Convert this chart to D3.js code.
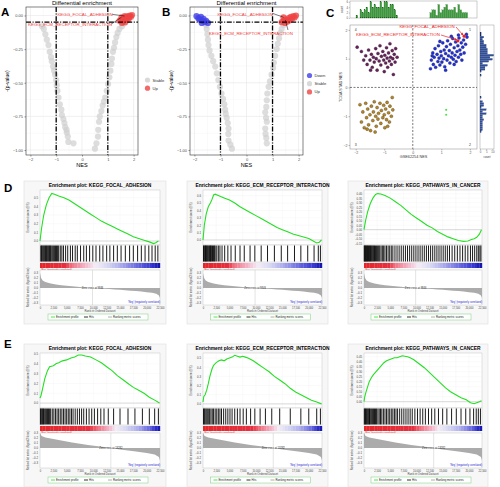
<!DOCTYPE html>
<html><head><meta charset="utf-8">
<script src="https://cdn.jsdelivr.net/npm/d3@7"></script>
<style>body{margin:0;background:#fff} svg{display:block;font-family:"Liberation Sans",Arial,Helvetica,sans-serif}</style>
</head><body><svg id="c" width="500" height="487"></svg>
<script>
// ---------------- DATA ----------------
// Panel A volcano (NES, -(p-value))
const volcA_stable = [[-1.55,-0.08],[-1.48,-0.10],[-1.42,-0.14],[-1.36,-0.18],[-1.30,-0.22],[-1.25,-0.27],[-1.20,-0.31],[-1.17,-0.34],[-1.12,-0.38],[-1.08,-0.41],[-1.04,-0.44],[-1.00,-0.48],[-0.98,-0.52],[-0.95,-0.56],[-0.91,-0.61],[-0.86,-0.66],[-0.80,-0.70],[-0.78,-0.74],[-0.72,-0.77],[-0.68,-0.80],[-0.65,-0.83],[-0.60,-0.85],[-0.59,-0.87],[-0.55,-0.90],[-0.53,-0.94],[-0.33,-0.95],
 [1.62,-0.06],[1.55,-0.08],[1.45,-0.10],[1.38,-0.13],[1.33,-0.16],[1.28,-0.20],[1.24,-0.24],[1.20,-0.27],[1.16,-0.32],[1.14,-0.36],[1.10,-0.41],[1.06,-0.46],[1.01,-0.51],[0.96,-0.56],[0.90,-0.61],[0.85,-0.64],[0.80,-0.67],[0.75,-0.71],[0.69,-0.75],[0.66,-0.79],[0.63,-0.85],[0.62,-0.90],[0.56,-0.95],[0.50,-0.99]];
const volcA_up = [[1.45,-0.04],[1.52,-0.03],[1.58,-0.045],[1.62,-0.02],[1.66,-0.035],[1.70,-0.01],[1.74,-0.025],[1.78,-0.005],[1.82,-0.015],[1.86,0.0],[1.90,-0.01],[1.94,0.003],[1.68,-0.05],[1.55,-0.055],[1.80,-0.03],[1.65,-0.004],[1.53,-0.013]];
const volcA_labels = [["KEGG_FOCAL_ADHESION",1.65,-0.004],["KEGG_ECM_RECEPTOR_INTERACTION",1.53,-0.013]];
// Panel B volcano
const volcB_down = [[-1.92,-0.005],[-1.85,-0.02],[-1.80,-0.03],[-1.75,-0.01],[-1.70,-0.04],[-1.65,-0.025],[-1.60,-0.05],[-1.55,-0.04],[-1.72,-0.055],[-1.48,-0.055]];
const volcB_stable = [[-1.55,-0.07],[-1.53,-0.10],[-1.50,-0.14],[-1.48,-0.18],[-1.46,-0.22],[-1.42,-0.26],[-1.35,-0.30],[-1.28,-0.34],[-1.20,-0.38],[-1.14,-0.43],[-1.08,-0.48],[-1.02,-0.53],[-0.96,-0.58],[-0.90,-0.62],[-0.85,-0.66],[-0.82,-0.70],[-0.80,-0.73],[-0.76,-0.76],[-0.72,-0.80],[-0.69,-0.84],[-0.70,-0.88],[-0.69,-0.93],[-0.62,-0.96],[-0.56,-0.99],
 [1.42,-0.07],[1.35,-0.10],[1.30,-0.13],[1.25,-0.17],[1.20,-0.21],[1.16,-0.25],[1.10,-0.30],[1.05,-0.35],[1.02,-0.39],[0.96,-0.44],[0.90,-0.49],[0.85,-0.53],[0.80,-0.58],[0.78,-0.63],[0.76,-0.68],[0.72,-0.72],[0.75,-0.76],[0.78,-0.79],[0.72,-0.84],[0.73,-0.88],[0.76,-0.91],[0.78,-0.95]];
const volcB_up = [[1.35,-0.05],[1.42,-0.04],[1.48,-0.055],[1.52,-0.03],[1.58,-0.045],[1.62,-0.02],[1.66,-0.035],[1.70,-0.01],[1.75,-0.025],[1.80,-0.005],[1.85,-0.015],[1.90,0.0],[1.42,-0.013],[1.49,-0.033]];
const volcB_labels = [["KEGG_FOCAL_ADHESION",1.42,-0.013],["KEGG_ECM_RECEPTOR_INTERACTION",1.49,-0.033]];
const volcXTicks = [-2,-1,0,1,2];
const volcYTicks = [0,-0.25,-0.5,-0.75,-1];

// Panel C: GSE62254 NES (x) vs TCGA STAD NES (y)
const cPurple = [[-1.80,1.25],[-1.72,0.95],[-1.65,1.10],[-1.60,0.80],[-1.55,1.30],[-1.50,0.95],[-1.45,1.15],[-1.42,0.70],[-1.38,1.05],[-1.35,0.88],[-1.30,1.35],[-1.28,1.00],[-1.25,0.60],[-1.22,1.18],[-1.18,0.92],[-1.15,1.45],[-1.12,0.78],[-1.10,1.08],[-1.05,1.25],[-1.02,0.95],[-1.00,0.55],[-0.98,1.12],[-0.95,0.85],[-0.92,1.38],[-0.90,1.02],[-0.88,0.70],[-0.85,1.20],[-0.82,0.92],[-0.80,1.52],[-0.78,1.05],[-0.75,0.80],[-0.72,1.28],[-0.70,1.00],[-0.68,0.45],[-0.65,1.15],[-0.62,0.88],[-0.60,1.35],[-1.95,1.40],[-1.48,0.60],[-0.55,1.05]];
const cBlue = [[0.62,0.65],[0.65,0.95],[0.70,1.20],[0.72,0.80],[0.75,1.05],[0.78,1.35],[0.80,0.70],[0.85,1.15],[0.88,0.90],[0.90,1.45],[0.92,1.02],[0.95,0.78],[0.98,1.25],[1.00,1.10],[1.02,0.88],[1.05,1.55],[1.08,1.00],[1.10,1.30],[1.12,0.72],[1.15,1.18],[1.18,1.42],[1.20,0.95],[1.22,1.62],[1.25,1.10],[1.28,1.28],[1.30,0.85],[1.32,1.50],[1.35,1.05],[1.38,1.20],[1.40,1.70],[1.42,0.98],[1.45,1.38],[1.48,1.12],[1.50,1.58],[1.52,0.90],[1.55,1.25],[1.58,1.45],[1.60,1.05],[1.62,1.72],[1.65,1.30],[1.68,1.15],[1.70,1.55],[1.72,0.95],[1.75,1.40],[1.78,1.65],[1.80,1.20],[1.85,1.50],[1.88,1.85],[0.68,1.10],[0.95,1.60],[1.15,0.60],[1.35,1.78],[1.45,0.80],[1.60,1.82],[1.90,1.75]];
const cBrown = [[-1.85,-0.60],[-1.80,-1.20],[-1.75,-0.85],[-1.70,-1.40],[-1.65,-0.55],[-1.62,-1.05],[-1.58,-0.75],[-1.55,-1.30],[-1.50,-0.95],[-1.48,-1.50],[-1.45,-0.65],[-1.40,-1.15],[-1.38,-0.85],[-1.35,-0.50],[-1.30,-1.00],[-1.28,-1.35],[-1.25,-0.70],[-1.22,-1.10],[-1.20,-0.90],[-1.15,-0.55],[-1.12,-1.25],[-1.10,-0.80],[-1.05,-1.05],[-1.02,-0.62],[-1.00,-0.95],[-0.98,-1.40],[-0.95,-0.75],[-0.92,-1.12],[-0.90,-0.52],[-0.85,-0.88],[-0.82,-1.20],[-0.80,-0.65],[-0.75,-1.00],[-0.72,-0.35],[-0.70,-0.78],[-1.60,-1.45],[-1.32,-1.55],[-0.88,-1.35]];
const cGreen = [[1.17,-0.78],[1.17,-0.95]];
const cHighlight = [["KEGG_FOCAL_ADHESION",1.80,1.78],["KEGG_ECM_RECEPTOR_INTERACTION",1.58,1.62]];
const cTicks = [-2,-1,0,1,2];
const cQuadrants = [["4",-2,2],["1",2,2],["3",-2,-2],["2",2,-2]];

// GSEA panels (rank, enrichment score)
const rankTicks = [0,2500,5000,7500,10000,12500,15000,17500,20000,22500];
const esD1 = [[0,0],[300,0.15],[700,0.30],[1200,0.42],[1700,0.50],[2200,0.55],[2700,0.54],[3500,0.52],[4500,0.50],[5500,0.47],[6500,0.43],[7500,0.39],[8500,0.35],[9500,0.31],[10500,0.27],[11500,0.23],[12500,0.20],[13500,0.17],[14500,0.14],[15500,0.11],[16500,0.08],[17500,0.05],[18500,0.03],[19500,0.01],[20500,-0.01],[21300,-0.03],[21700,-0.02],[22200,0]];
const hitsD1 = [150,300,420,600,750,900,1050,1200,1350,1500,1650,1800,1950,2100,2300,2500,2700,2900,3100,3300,3500,3800,4100,4400,4800,5200,5700,6100,6600,7000,7600,8200,8700,9300,9900,10500,11200,11800,12500,13100,13800,14500,15200,16000,16800,17500,18300,19000,19700,20400,21000,21600,22100];
const esD2 = [[0,0],[250,0.20],[600,0.35],[1000,0.45],[1400,0.50],[1700,0.55],[2000,0.61],[2300,0.62],[3000,0.60],[4000,0.57],[5000,0.54],[6000,0.50],[7000,0.45],[8000,0.41],[9000,0.37],[10000,0.33],[11000,0.29],[12000,0.25],[13000,0.21],[14000,0.17],[15000,0.14],[16000,0.11],[17000,0.08],[18000,0.06],[19000,0.04],[20000,0.02],[21000,-0.02],[21500,-0.04],[22000,-0.03],[22400,0]];
const hitsD2 = [100,200,350,450,550,700,800,950,1100,1250,1400,1500,1650,1800,2000,2150,2300,2600,2900,3200,3600,4100,4700,5300,6100,7000,7800,8900,9800,11000,12200,13500,14800,16000,17300,18500,19800,21000,21800,22200];
const esD3 = [[0,0],[300,0.10],[700,0.20],[1200,0.29],[1700,0.35],[2200,0.39],[2600,0.40],[3200,0.395],[4000,0.38],[5000,0.35],[6000,0.31],[7000,0.27],[8000,0.22],[9000,0.17],[10000,0.13],[11000,0.09],[12000,0.05],[13000,0.02],[14000,-0.02],[15000,-0.05],[16000,-0.08],[17000,-0.10],[18000,-0.12],[19000,-0.13],[19800,-0.125],[20500,-0.11],[21000,-0.10],[21500,-0.085],[22000,-0.05],[22400,0]];
const hitsD3 = [50,150,250,350,500,600,700,850,1000,1100,1250,1400,1550,1700,1850,2000,2200,2400,2600,2800,3000,3250,3500,3750,4000,4300,4600,4900,5200,5500,5900,6300,6700,7100,7500,7900,8300,8700,9100,9500,9900,10300,10700,11100,11500,11900,12300,12700,13100,13500,13900,14300,14700,15100,15500,15900,16300,16800,17300,17800,18300,18800,19300,19800,20300,20700,21100,21500,21800,22100,22300];
const esE1 = [[0,0.05],[200,0.08],[500,0.15],[900,0.25],[1400,0.33],[1800,0.37],[2500,0.38],[3000,0.40],[3500,0.41],[4200,0.43],[5000,0.44],[5800,0.46],[6500,0.47],[7200,0.49],[7800,0.49],[8500,0.48],[9500,0.47],[10500,0.44],[11500,0.41],[12500,0.37],[13500,0.33],[14500,0.28],[15500,0.24],[16500,0.20],[17500,0.16],[18500,0.13],[19500,0.10],[20500,0.06],[21500,0.03],[22400,0]];
const hitsE1 = [80,200,350,500,650,800,1000,1200,1400,1600,1800,2000,2300,2600,2900,3200,3500,3800,4100,4400,4700,5000,5300,5600,5900,6200,6600,7000,7400,7800,8200,8700,9200,9700,10200,10800,11400,12000,12800,13800,15000,16500,17800,19200,20500,21500,22200];
const esE2 = [[0,0.02],[150,0.08],[400,0.10],[700,0.15],[1000,0.22],[1300,0.30],[1700,0.38],[2000,0.42],[2500,0.45],[3000,0.47],[3500,0.48],[4000,0.47],[4500,0.49],[5000,0.50],[5500,0.51],[6000,0.53],[6500,0.52],[7000,0.51],[7500,0.52],[8000,0.51],[8500,0.50],[9500,0.47],[10500,0.43],[11500,0.39],[12500,0.35],[13500,0.30],[14500,0.26],[15500,0.22],[16500,0.17],[17500,0.13],[18500,0.10],[19500,0.07],[20500,0.04],[21500,0.02],[22400,0]];
const hitsE2 = [100,250,400,600,800,1000,1250,1500,1750,2000,2300,2600,2900,3200,3500,3900,4300,4700,5100,5500,6000,6500,7000,7600,8200,9000,9800,10800,11800,13000,14500,16500,18500,20000,21500,22200];
const esE3 = [[0,0],[150,0.05],[400,0.10],[700,0.15],[1000,0.20],[1400,0.24],[1800,0.27],[2300,0.30],[2800,0.33],[3300,0.36],[3800,0.39],[4300,0.41],[4800,0.42],[5300,0.43],[5800,0.44],[6300,0.44],[6800,0.45],[7300,0.46],[7800,0.455],[8300,0.45],[8800,0.44],[9500,0.42],[10500,0.38],[11500,0.34],[12500,0.29],[13500,0.24],[14500,0.19],[15500,0.14],[16500,0.10],[17500,0.07],[18500,0.04],[19500,0.02],[20300,-0.01],[21000,-0.02],[21500,-0.01],[22000,0],[22400,0.01]];
const hitsE3 = [60,180,300,450,600,750,900,1050,1200,1400,1600,1800,2000,2200,2400,2650,2900,3150,3400,3700,4000,4300,4600,4900,5200,5500,5800,6100,6400,6800,7200,7600,8000,8400,8800,9200,9700,10200,10700,11200,11700,12300,12900,13500,14200,15000,15800,16700,17600,18500,19400,20200,20900,21400,21800,22200];
// ranked list metric (rank, signal2noise)
const rankedD = [[0,0.30],[200,0.20],[500,0.15],[1000,0.12],[2000,0.09],[3000,0.07],[4000,0.055],[5000,0.045],[6000,0.035],[7000,0.025],[8000,0.015],[9000,0.006],[9846,0],[11000,-0.008],[12000,-0.015],[13000,-0.022],[14000,-0.03],[15000,-0.037],[16000,-0.045],[17000,-0.053],[18000,-0.062],[19000,-0.072],[20000,-0.083],[21000,-0.097],[21800,-0.115],[22300,-0.15],[22500,-0.2]];
const rankedE = [[0,0.30],[300,0.24],[1000,0.21],[3000,0.17],[6000,0.11],[9000,0.06],[12000,0.02],[13282,0],[15000,-0.03],[18000,-0.07],[20000,-0.10],[21500,-0.13],[22300,-0.18],[22500,-0.25]];
const zeroCrossD = 9846, zeroCrossE = 13282;
const esTicksD1 = [0,0.1,0.2,0.3,0.4,0.5];
const esTicksD2 = [0,0.1,0.2,0.3,0.4,0.5,0.6];
const esTicksD3 = [-0.15,-0.10,-0.05,0,0.05,0.10,0.15,0.20,0.25,0.30,0.35,0.40];
const esTicksE1 = [0,0.1,0.2,0.3,0.4,0.5];
const esTicksE2 = [0,0.1,0.2,0.3,0.4,0.5];
const esTicksE3 = [0,0.05,0.10,0.15,0.20,0.25,0.30,0.35,0.40,0.45];
const rankedTicks = [-0.3,-0.2,-0.1,0,0.1,0.2,0.3];

// ---------------- DRAWING ----------------
const svg = d3.select('#c');
const RED='#ef4343', GRAY='#cfcfcf', BLUE='#4040e8';

function volcano(cfg){
  const g = svg.append('g');
  const x = d3.scaleLinear().domain([-2.17,2.17]).range([cfg.x0,cfg.x1]);
  const y = d3.scaleLinear().domain([-1.037,0.063]).range([cfg.y1,cfg.y0]);
  g.append('rect').attr('x',cfg.x0).attr('y',cfg.y0).attr('width',cfg.x1-cfg.x0).attr('height',cfg.y1-cfg.y0).attr('fill','#fff');
  const minorX = d3.pairs(volcXTicks).map(p=>(p[0]+p[1])/2), minorY = d3.pairs(volcYTicks).map(p=>(p[0]+p[1])/2);
  g.selectAll(null).data(minorX).enter().append('line').attr('x1',d=>x(d)).attr('x2',d=>x(d)).attr('y1',cfg.y0).attr('y2',cfg.y1).attr('stroke','#f3f3f3').attr('stroke-width',0.4);
  g.selectAll(null).data(minorY).enter().append('line').attr('y1',d=>y(d)).attr('y2',d=>y(d)).attr('x1',cfg.x0).attr('x2',cfg.x1).attr('stroke','#f3f3f3').attr('stroke-width',0.4);
  g.selectAll(null).data(volcXTicks).enter().append('line').attr('x1',d=>x(d)).attr('x2',d=>x(d)).attr('y1',cfg.y0).attr('y2',cfg.y1).attr('stroke','#e6e6e6').attr('stroke-width',0.6);
  g.selectAll(null).data(volcYTicks).enter().append('line').attr('y1',d=>y(d)).attr('y2',d=>y(d)).attr('x1',cfg.x0).attr('x2',cfg.x1).attr('stroke','#e6e6e6').attr('stroke-width',0.6);
  cfg.groups.forEach(gr=>{
    g.selectAll(null).data(gr.data).enter().append('circle').attr('cx',d=>x(d[0])).attr('cy',d=>y(d[1])).attr('r',3.1).attr('fill',gr.color).attr('fill-opacity',gr.op);
  });
  const dash = '5,1.6,1,1.6';
  [-1,1].forEach(v=>g.append('line').attr('x1',x(v)).attr('x2',x(v)).attr('y1',cfg.y0).attr('y2',cfg.y1).attr('stroke','#000').attr('stroke-width',1.3).attr('stroke-dasharray',dash));
  g.append('line').attr('x1',cfg.x0).attr('x2',cfg.x1).attr('y1',y(-0.05)).attr('y2',y(-0.05)).attr('stroke','#000').attr('stroke-width',1.3).attr('stroke-dasharray',dash);
  cfg.labels.forEach((lb,i)=>{
    const L = cfg.labelPos[i];
    g.append('line').attr('x1',L[2]).attr('y1',L[3]).attr('x2',x(lb[1])).attr('y2',y(lb[2])).attr('stroke','#000').attr('stroke-width',0.5);
    g.append('text').attr('x',L[0]).attr('y',L[1]).attr('text-anchor','middle').attr('font-size',4.4).attr('fill',RED).text(lb[0]);
  });
  g.append('rect').attr('x',cfg.x0).attr('y',cfg.y0).attr('width',cfg.x1-cfg.x0).attr('height',cfg.y1-cfg.y0).attr('fill','none').attr('stroke','#333').attr('stroke-width',0.6);
  const ax = g.append('g').attr('transform',`translate(0,${cfg.y1})`).call(d3.axisBottom(x).tickValues(volcXTicks).tickSize(1.5).tickPadding(1.5).tickFormat(d3.format('d')));
  const ay = g.append('g').attr('transform',`translate(${cfg.x0},0)`).call(d3.axisLeft(y).tickValues(volcYTicks).tickSize(1.5).tickPadding(1.5).tickFormat(d3.format('.2f')));
  [ax,ay].forEach(a=>{a.select('.domain').remove();a.selectAll('line').attr('stroke','#333').attr('stroke-width',0.5);a.selectAll('text').attr('font-size',4).attr('fill','#4d4d4d').attr('font-family','inherit');});
  g.append('text').attr('x',(cfg.x0+cfg.x1)/2).attr('y',cfg.y1+11.5).attr('text-anchor','middle').attr('font-size',5.5).text('NES');
  g.append('text').attr('transform',`translate(${cfg.x0-17},${(cfg.y0+cfg.y1)/2}) rotate(-90)`).attr('text-anchor','middle').attr('font-size',5).text('-(p-value)');
  g.append('text').attr('x',(cfg.x0+cfg.x1)/2).attr('y',cfg.y0-1.8).attr('text-anchor','middle').attr('font-size',6).text('Differential enrichment');
  cfg.legend.forEach((lg,i)=>{
    g.append('circle').attr('cx',cfg.legX).attr('cy',cfg.legY+i*8.2).attr('r',2.6).attr('fill',lg[1]).attr('fill-opacity',0.8);
    g.append('text').attr('x',cfg.legX+5).attr('y',cfg.legY+i*8.2+1.5).attr('font-size',4.2).attr('fill','#333').text(lg[0]);
  });
}

volcano({x0:26,x1:138,y0:7,y1:155,
  groups:[{data:volcA_stable,color:GRAY,op:0.7},{data:volcA_up,color:RED,op:0.75}],
  labels:volcA_labels, labelPos:[[85,15.8,112,14.3],[70,25.8,111,24.3]],
  legend:[["Stable",GRAY],["Up",RED]], legX:147.5, legY:80});
volcano({x0:190,x1:303,y0:7,y1:155,
  groups:[{data:volcB_stable,color:GRAY,op:0.7},{data:volcB_down,color:BLUE,op:0.8},{data:volcB_up,color:RED,op:0.8}],
  labels:volcB_labels, labelPos:[[245,15.8,273,13.5],[251,34.8,288,30]],
  legend:[["Down",BLUE],["Stable",GRAY],["Up",RED]], legX:309.5, legY:75.5});

// -------- Panel C --------
(function(){
  const g = svg.append('g');
  const X0=350,X1=477,Y0=25,Y1=149;
  const x = d3.scaleLinear().domain([-2.2,2.25]).range([X0,X1]);
  const y = d3.scaleLinear().domain([-2.14,2.17]).range([Y1,Y0]);
  g.append('rect').attr('x',X0).attr('y',Y0).attr('width',X1-X0).attr('height',Y1-Y0).attr('fill','#fff').attr('stroke','#9a9a9a').attr('stroke-width',0.6);
  g.append('line').attr('x1',x(0)).attr('x2',x(0)).attr('y1',Y0).attr('y2',Y1).attr('stroke','#222').attr('stroke-width',0.6).attr('stroke-dasharray','2,1.5');
  g.append('line').attr('y1',y(0)).attr('y2',y(0)).attr('x1',X0).attr('x2',X1).attr('stroke','#222').attr('stroke-width',0.6).attr('stroke-dasharray','2,1.5');
  const groups=[[cPurple,'#6b1f5e'],[cBlue,'#1f2fe8'],[cBrown,'#b8861e'],[cGreen,'#55dd55']];
  groups.forEach(([data,col],i)=>{
    g.selectAll(null).data(data).enter().append('circle').attr('cx',d=>x(d[0])).attr('cy',d=>y(d[1])).attr('r',i===3?1.1:1.55).attr('fill',col).attr('stroke',i===3?'none':'#222').attr('stroke-width',0.3);
  });
  g.selectAll(null).data(cHighlight).enter().append('circle').attr('cx',d=>x(d[1])).attr('cy',d=>y(d[2])).attr('r',1.6).attr('fill','#ee2222');
  const defs = svg.append('defs');
  defs.append('marker').attr('id','arr').attr('viewBox','0 0 10 10').attr('refX',9).attr('refY',5).attr('markerWidth',4).attr('markerHeight',4).attr('orient','auto')
    .append('path').attr('d','M0,0L10,5L0,10z').attr('fill','#ee2222');
  const cLab = [[427,27.6,456,27],[398,35.6,441,35]];
  cHighlight.forEach((h,i)=>{
    const L=cLab[i];
    g.append('line').attr('x1',L[2]).attr('y1',L[3]).attr('x2',x(h[1])-1).attr('y2',y(h[2])-1).attr('stroke','#ee2222').attr('stroke-width',0.7).attr('marker-end','url(#arr)');
    g.append('text').attr('x',L[0]).attr('y',L[1]).attr('text-anchor','middle').attr('font-size',4.4).attr('fill','#ee2222').text(h[0]);
  });
  g.selectAll(null).data(cQuadrants).enter().append('text').attr('x',d=>x(d[1])).attr('y',d=>y(d[2])+1.3).attr('text-anchor','middle').attr('font-size',3.5).attr('fill','#333').text(d=>d[0]);
  const ax = g.append('g').attr('transform',`translate(0,${Y1})`).call(d3.axisBottom(x).tickValues(cTicks).tickSize(1.5).tickPadding(1).tickFormat(d3.format('d')));
  const ay = g.append('g').attr('transform',`translate(${X0},0)`).call(d3.axisLeft(y).tickValues(cTicks).tickSize(1.5).tickPadding(1).tickFormat(d3.format('d')));
  [ax,ay].forEach(a=>{a.select('.domain').remove();a.selectAll('line').attr('stroke','#555').attr('stroke-width',0.4);a.selectAll('text').attr('font-size',3.5).attr('fill','#555').attr('font-family','inherit');});
  g.append('text').attr('x',(X0+X1)/2).attr('y',Y1+8.5).attr('text-anchor','middle').attr('font-size',3.8).attr('fill','#333').text('GSE62254 NES');
  g.append('text').attr('transform',`translate(${X0-8},${(Y0+Y1)/2}) rotate(-90)`).attr('text-anchor','middle').attr('font-size',3.8).attr('fill','#333').text('TCGA STAD NES');
  // marginal histograms (binned from the scatter points)
  const allPts = cPurple.concat(cBlue,cBrown,cGreen);
  const binX = d3.bin().domain(x.domain()).thresholds(d3.range(-2.2,2.25,0.07)).value(d=>d[0])(allPts);
  const binY = d3.bin().domain(y.domain()).thresholds(d3.range(-2.14,2.17,0.07)).value(d=>d[1])(allPts);
  const HY0=1,HY1=18;
  const hy = d3.scaleLinear().domain([0,d3.max(binX,b=>b.length)+0.3]).range([HY1,HY0]);
  g.append('rect').attr('x',X0).attr('y',HY0).attr('width',X1-X0).attr('height',HY1-HY0).attr('fill','#fff').attr('stroke','#9a9a9a').attr('stroke-width',0.5);
  g.selectAll(null).data(binX.filter(b=>b.length)).enter().append('rect').attr('x',b=>x(b.x0)).attr('width',b=>Math.max(0.3,x(b.x1)-x(b.x0)-0.25)).attr('y',b=>hy(b.length)).attr('height',b=>HY1-hy(b.length)).attr('fill','#3c9a3c').attr('stroke','#1f5f1f').attr('stroke-width',0.15);
  const ahy = g.append('g').attr('transform',`translate(${X0},0)`).call(d3.axisLeft(hy).ticks(3).tickSize(1.2).tickPadding(0.8));
  ahy.select('.domain').remove(); ahy.selectAll('line').attr('stroke','#555').attr('stroke-width',0.3); ahy.selectAll('text').attr('font-size',2.8).attr('fill','#555').attr('font-family','inherit');
  g.append('text').attr('transform',`translate(${X0-7},${(HY0+HY1)/2}) rotate(-90)`).attr('text-anchor','middle').attr('font-size',2.8).attr('fill','#333').text('count');
  const HX0=480,HX1=494;
  const hx = d3.scaleLinear().domain([0,d3.max(binY,b=>b.length)+0.3]).range([HX0,HX1]);
  g.append('rect').attr('x',HX0).attr('y',Y0).attr('width',HX1-HX0).attr('height',Y1-Y0).attr('fill','#fff').attr('stroke','#9a9a9a').attr('stroke-width',0.5);
  g.selectAll(null).data(binY.filter(b=>b.length)).enter().append('rect').attr('x',HX0).attr('y',b=>y(b.x1)).attr('height',b=>Math.max(0.3,y(b.x0)-y(b.x1)-0.25)).attr('width',b=>hx(b.length)-HX0).attr('fill','#2f4f9a').attr('stroke','#1a2a5a').attr('stroke-width',0.15);
  const ahx = g.append('g').attr('transform',`translate(0,${Y1})`).call(d3.axisBottom(hx).ticks(3).tickSize(1.2).tickPadding(0.8));
  ahx.select('.domain').remove(); ahx.selectAll('line').attr('stroke','#555').attr('stroke-width',0.3); ahx.selectAll('text').attr('font-size',2.8).attr('fill','#555').attr('font-family','inherit');
  g.append('text').attr('x',(HX0+HX1)/2).attr('y',Y1+8.5).attr('text-anchor','middle').attr('font-size',2.8).attr('fill','#333').text('count');
})();

// -------- GSEA plots --------
const GRAD_COLORS = ['#e4262b','#e63040','#f07080','#f4b8cc','#f4eef6','#d8d8f4','#b0b0ee','#6868e0','#3030d0','#0808a0'];
function gsea(cfg){
  const g = svg.append('g');
  const {x0,x1,top} = cfg;
  const x = d3.scaleLinear().domain([0,22500]).range([x0,x1]);
  const esT=top, esB=top+55, hT=esB, hB=top+72, gT=top+73, gB=top+78, rT=top+80, rB=top+115;
  g.append('rect').attr('x',x0-16).attr('y',top-9).attr('width',x1-x0+22).attr('height',143).attr('fill','#f7f7f7').attr('stroke','#dedede').attr('stroke-width',0.6);
  g.append('text').attr('x',(x0+x1)/2).attr('y',top-3).attr('text-anchor','middle').attr('font-size',4.9).attr('font-weight','bold').text('Enrichment plot: '+cfg.title);
  const ye = d3.scaleLinear().domain(cfg.esDomain).range([esB,esT]);
  g.append('rect').attr('x',x0).attr('y',esT).attr('width',x1-x0).attr('height',esB-esT).attr('fill','#fff').attr('stroke','#bbb').attr('stroke-width',0.4);
  g.selectAll(null).data(rankTicks).enter().append('line').attr('x1',d=>x(d)).attr('x2',d=>x(d)).attr('y1',esT).attr('y2',esB).attr('stroke','#efefef').attr('stroke-width',0.3);
  g.selectAll(null).data(cfg.esTicks).enter().append('line').attr('y1',d=>ye(d)).attr('y2',d=>ye(d)).attr('x1',x0).attr('x2',x1).attr('stroke','#efefef').attr('stroke-width',0.3);
  g.append('line').attr('x1',x0).attr('x2',x1).attr('y1',ye(0)).attr('y2',ye(0)).attr('stroke','#aaa').attr('stroke-width',0.4);
  g.append('path').datum(cfg.es).attr('d',d3.line().x(d=>x(d[0])).y(d=>ye(d[1]))).attr('fill','none').attr('stroke','#22e022').attr('stroke-width',1.1);
  const aye = g.append('g').attr('transform',`translate(${x0},0)`).call(d3.axisLeft(ye).tickValues(cfg.esTicks).tickSize(0).tickPadding(2).tickFormat(d3.format(cfg.esFmt)));
  aye.select('.domain').remove(); aye.selectAll('text').attr('font-size',2.8).attr('fill','#444').attr('font-family','inherit');
  g.append('text').attr('transform',`translate(${x0-11},${(esT+esB)/2}) rotate(-90)`).attr('text-anchor','middle').attr('font-size',3).attr('fill','#444').text('Enrichment score (ES)');
  g.append('rect').attr('x',x0).attr('y',hT).attr('width',x1-x0).attr('height',hB-hT).attr('fill','#fff').attr('stroke','#bbb').attr('stroke-width',0.4);
  g.selectAll(null).data(cfg.hits).enter().append('line').attr('x1',d=>x(d)).attr('x2',d=>x(d)).attr('y1',hT+0.5).attr('y2',hB-0.5).attr('stroke','#000').attr('stroke-width',0.9);
  const col = d3.scaleLinear().domain(cfg.gradStops).range(GRAD_COLORS);
  const nSeg = 45, segs = d3.range(0,22500,22500/nSeg);
  g.selectAll(null).data(segs).enter().append('rect').attr('x',d=>x(d)).attr('width',(x1-x0)/nSeg+0.2).attr('y',gT).attr('height',gB-gT).attr('fill',d=>col(d/22500));
  g.append('text').attr('x',x0+1).attr('y',gB+2.7).attr('font-size',2.6).attr('fill','#e02020').text("'Pos' (positively correlated)");
  const yr = d3.scaleLinear().domain(cfg.rankDomain).range([rB,rT]);
  g.append('rect').attr('x',x0).attr('y',rT).attr('width',x1-x0).attr('height',rB-rT).attr('fill','#fff').attr('stroke','#bbb').attr('stroke-width',0.4);
  g.append('path').datum(cfg.ranked).attr('d',d3.area().x(d=>x(d[0])).y0(yr(0)).y1(d=>yr(Math.max(cfg.rankDomain[0],d[1])))).attr('fill','#ababab');
  g.append('line').attr('x1',x(cfg.zero)).attr('x2',x(cfg.zero)).attr('y1',rT).attr('y2',rB).attr('stroke','#bbb').attr('stroke-width',0.4);
  g.append('text').attr('x',x(cfg.zero)).attr('y',yr(0)+0.9).attr('text-anchor','middle').attr('font-size',2.6).attr('fill','#222').text('Zero cross at '+cfg.zero);
  g.append('text').attr('x',x1-16).attr('y',rB-2).attr('text-anchor','middle').attr('font-size',2.6).attr('fill','#2020d0').text("'Neg' (negatively correlated)");
  const ayr = g.append('g').attr('transform',`translate(${x0},0)`).call(d3.axisLeft(yr).tickValues(rankedTicks.filter(t=>t>=cfg.rankDomain[0]&&t<=cfg.rankDomain[1])).tickSize(0).tickPadding(2).tickFormat(d3.format('.1f')));
  ayr.select('.domain').remove(); ayr.selectAll('text').attr('font-size',2.8).attr('fill','#444').attr('font-family','inherit');
  g.append('text').attr('transform',`translate(${x0-11},${(rT+rB)/2}) rotate(-90)`).attr('text-anchor','middle').attr('font-size',2.7).attr('fill','#444').text('Ranked list metric (Signal2Noise)');
  const axr = g.append('g').attr('transform',`translate(0,${rB})`).call(d3.axisBottom(x).tickValues(rankTicks).tickSize(0).tickPadding(2).tickFormat(d3.format(',')));
  axr.select('.domain').remove(); axr.selectAll('text').attr('font-size',2.6).attr('fill','#444').attr('font-family','inherit');
  g.append('text').attr('x',(x0+x1)/2).attr('y',rB+7).attr('text-anchor','middle').attr('font-size',2.8).attr('fill','#444').text('Rank in Ordered Dataset');
  const lx=(x0+x1)/2-52, ly=top+124;
  g.append('rect').attr('x',lx).attr('y',ly).attr('width',100).attr('height',6).attr('fill','#fff').attr('stroke','#7ad07a').attr('stroke-width',0.5);
  const items=[['Enrichment profile','#22e022',3],['Hits','#000',36],['Ranking metric scores','#999',60]];
  items.forEach(it=>{
    g.append('line').attr('x1',lx+it[2]).attr('x2',lx+it[2]+4).attr('y1',ly+3).attr('y2',ly+3).attr('stroke',it[1]).attr('stroke-width',0.8);
    g.append('text').attr('x',lx+it[2]+5).attr('y',ly+4).attr('font-size',2.8).attr('fill','#222').text(it[0]);
  });
}
const colsX = [[40,160],[203,322],[364,482]];
const gradD = [0,0.2,0.25,0.37,0.45,0.55,0.65,0.8,0.93,1];
const gradE = [0,0.4,0.47,0.57,0.62,0.7,0.8,0.9,0.95,1];
const dSpecs = [
  {title:'KEGG_FOCAL_ADHESION',es:esD1,hits:hitsD1,esDomain:[-0.046,0.589],esTicks:esTicksD1,esFmt:'.1f'},
  {title:'KEGG_ECM_RECEPTOR_INTERACTION',es:esD2,hits:hitsD2,esDomain:[-0.068,0.677],esTicks:esTicksD2,esFmt:'.1f'},
  {title:'KEGG_PATHWAYS_IN_CANCER',es:esD3,hits:hitsD3,esDomain:[-0.17,0.44],esTicks:esTicksD3,esFmt:'.2f'}];
const eSpecs = [
  {title:'KEGG_FOCAL_ADHESION',es:esE1,hits:hitsE1,esDomain:[-0.05,0.51],esTicks:esTicksE1,esFmt:'.1f'},
  {title:'KEGG_ECM_RECEPTOR_INTERACTION',es:esE2,hits:hitsE2,esDomain:[-0.045,0.555],esTicks:esTicksE2,esFmt:'.1f'},
  {title:'KEGG_PATHWAYS_IN_CANCER',es:esE3,hits:hitsE3,esDomain:[-0.063,0.487],esTicks:esTicksE3,esFmt:'.2f'}];
dSpecs.forEach((s,i)=>gsea(Object.assign({x0:colsX[i][0],x1:colsX[i][1],top:190,ranked:rankedD,zero:zeroCrossD,rankDomain:[-0.34,0.36],gradStops:gradD},s)));
eSpecs.forEach((s,i)=>gsea(Object.assign({x0:colsX[i][0],x1:colsX[i][1],top:353,ranked:rankedE,zero:zeroCrossE,rankDomain:[-0.4,0.3],gradStops:gradE},s)));

const panelLetters = [['A',1,16],['B',162,16],['C',326,17],['D',4,192],['E',4,348]];
svg.selectAll(null).data(panelLetters).enter().append('text').attr('x',d=>d[1]).attr('y',d=>d[2]).attr('font-size',11.5).attr('font-weight','bold').text(d=>d[0]);
</script></body></html>
